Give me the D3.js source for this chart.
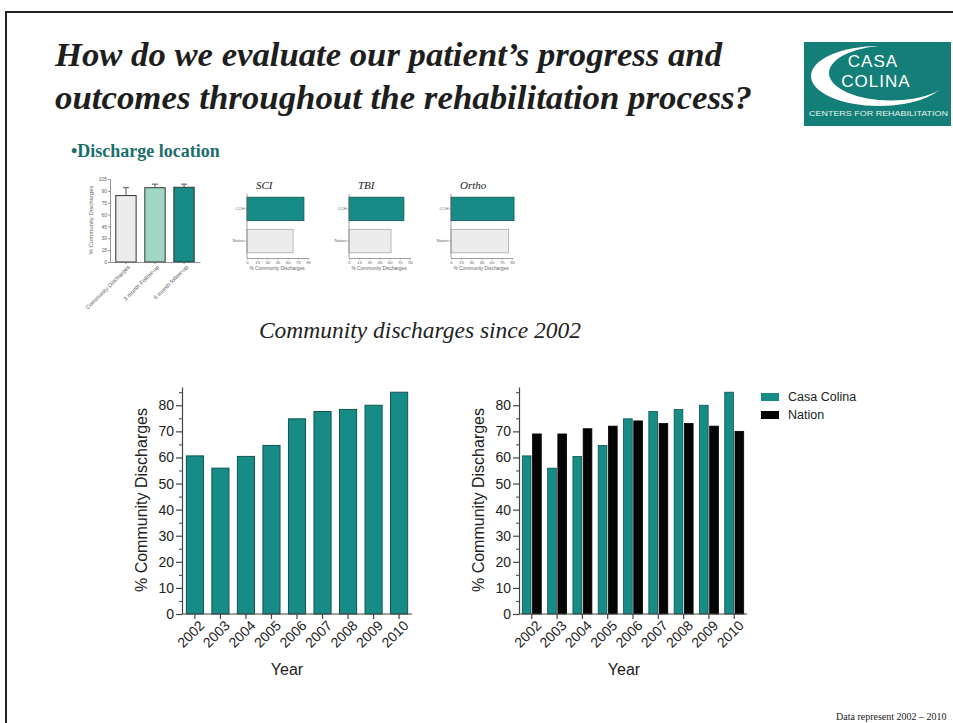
<html lang="en">

<head>
  <meta charset="utf-8">
  <title>Community discharges since 2002</title>
  <script type="text/javascript" src="https://cdn.jsdelivr.net/npm/d3@7"></script>
  <style>
    body { margin: 0; background: #fff; }
  </style>
</head>

<body>
  <svg width="953" height="723"></svg>
  <script>
    // main charts
    const years = ["2002", "2003", "2004", "2005", "2006", "2007", "2008", "2009", "2010"];
    const casaColina = [60.6, 55.9, 60.4, 64.6, 74.8, 77.6, 78.4, 80.0, 85.0];
    const nation = [69.0, 69.0, 71.0, 72.0, 74.0, 73.0, 73.0, 72.0, 70.0];
    const mainTicks = [0, 10, 20, 30, 40, 50, 60, 70, 80];
    const mainMinor = [5, 15, 25, 35, 45, 55, 65, 75, 85];
    const series = ["Casa Colina", "Nation"];

    // small follow-up chart
    const followupLabels = ["Community Discharges", "3 month Follow-up", "6 month follow-up"];
    const followupValues = [84, 94, 94.5];
    const followupErrors = [10, 4.5, 4];
    const followupTicks = [0, 15, 30, 45, 60, 75, 90, 105];

    // small horizontal charts
    const groups = ["SCI", "TBI", "Ortho"];
    const groupCCH = [84, 81, 93];
    const groupNation = [68, 62, 85];
    const groupRows = ["CCH", "Nation"];
    const groupTicks = [0, 15, 30, 45, 60, 75, 90];

    const teal = "#178b85";
    const tealDark = "#0e5552";
    const svg = d3.select("svg");

    svg.append("rect").attr("width", 953).attr("height", 723).attr("fill", "#fff");

    // slide frame
    svg.append("rect")
      .attr("x", 6).attr("y", 12)
      .attr("width", 1000).attr("height", 800)
      .attr("fill", "none").attr("stroke", "#222").attr("stroke-width", 2);

    // title
    const title = svg.append("text")
      .attr("font-family", "'Liberation Serif', 'Times New Roman', serif")
      .attr("font-weight", "bold")
      .attr("font-style", "italic")
      .attr("font-size", 34.5)
      .attr("fill", "#1e1e1e");
    title.append("tspan").attr("x", 55).attr("y", 66)
      .attr("textLength", 667).attr("lengthAdjust", "spacingAndGlyphs")
      .text("How do we evaluate our patient\u2019s progress and");
    title.append("tspan").attr("x", 55).attr("y", 109)
      .attr("textLength", 697).attr("lengthAdjust", "spacingAndGlyphs")
      .text("outcomes throughout the rehabilitation process?");

    // logo
    const logo = svg.append("g");
    logo.append("clipPath").attr("id", "logoClip")
      .append("rect").attr("x", 804).attr("y", 42).attr("width", 147).attr("height", 84);
    logo.append("rect")
      .attr("x", 804).attr("y", 42).attr("width", 147).attr("height", 84)
      .attr("fill", "#137f78");
    const swoosh = logo.append("g").attr("clip-path", "url(#logoClip)");
    swoosh.append("ellipse")
      .attr("cx", 879).attr("cy", 76).attr("rx", 68).attr("ry", 30)
      .attr("fill", "#fff");
    swoosh.append("ellipse")
      .attr("cx", 891).attr("cy", 73).attr("rx", 62).attr("ry", 27.5)
      .attr("fill", "#137f78");
    logo.append("text")
      .attr("x", 873).attr("y", 67)
      .attr("text-anchor", "middle")
      .attr("font-family", "'Liberation Sans', Arial, sans-serif")
      .attr("font-size", 17)
      .attr("letter-spacing", 1)
      .attr("fill", "#fff")
      .text("CASA");
    logo.append("text")
      .attr("x", 876).attr("y", 87)
      .attr("text-anchor", "middle")
      .attr("font-family", "'Liberation Sans', Arial, sans-serif")
      .attr("font-size", 17)
      .attr("letter-spacing", 1)
      .attr("fill", "#fff")
      .text("COLINA");
    logo.append("text")
      .attr("x", 809).attr("y", 116)
      .attr("font-family", "'Liberation Sans', Arial, sans-serif")
      .attr("font-size", 7)
      .attr("fill", "#e6f2f1")
      .attr("textLength", 139)
      .attr("lengthAdjust", "spacingAndGlyphs")
      .text("CENTERS FOR REHABILITATION");

    // section heading
    svg.append("text")
      .attr("x", 71).attr("y", 157)
      .attr("font-family", "'Liberation Serif', 'Times New Roman', serif")
      .attr("font-weight", "bold")
      .attr("font-size", 18)
      .attr("fill", "#1a6f6a")
      .text("\u2022Discharge location");

    // small vertical chart with error bars
    const ySmall = d3.scaleLinear().domain([0, 105]).range([262, 179]);
    const xSmall = d3.scaleBand().domain(followupLabels).range([110, 200])
      .paddingInner(0.3).paddingOuter(0.2);
    const smallFill = ["#ececec", "#9fd6c4", teal];
    const fs = svg.append("g");
    fs.selectAll("rect.bar")
      .data(followupLabels)
      .join("rect")
      .attr("class", "bar")
      .attr("x", d => xSmall(d))
      .attr("width", xSmall.bandwidth())
      .attr("y", (d, i) => ySmall(followupValues[i]))
      .attr("height", (d, i) => ySmall(0) - ySmall(followupValues[i]))
      .attr("fill", (d, i) => smallFill[i])
      .attr("stroke", "#333").attr("stroke-width", 1);
    fs.selectAll("path.err")
      .data(followupLabels)
      .join("path")
      .attr("class", "err")
      .attr("d", (d, i) => {
        const cx = xSmall(d) + xSmall.bandwidth() / 2;
        const y1 = ySmall(followupValues[i]);
        const y2 = ySmall(followupValues[i] + followupErrors[i]);
        return `M${cx},${y1}V${y2}M${cx - 3},${y2}H${cx + 3}`;
      })
      .attr("stroke", "#555").attr("fill", "none");
    const smallYAxis = fs.append("g")
      .attr("transform", "translate(110,0)")
      .call(d3.axisLeft(ySmall).tickValues(followupTicks).tickSize(2).tickSizeOuter(0).tickPadding(1));
    const smallXAxis = fs.append("g")
      .attr("transform", "translate(0,262)")
      .call(d3.axisBottom(xSmall).tickSize(2).tickSizeOuter(0));
    [smallYAxis, smallXAxis].forEach(a => {
      a.selectAll("text").attr("font-size", 5).attr("fill", "#666")
        .attr("font-family", "'Liberation Sans', Arial, sans-serif");
      a.selectAll("line,path").attr("stroke", "#666").attr("stroke-width", 0.7);
    });
    smallXAxis.selectAll("text")
      .attr("transform", "translate(3,4) rotate(-45)")
      .attr("text-anchor", "end")
      .attr("font-size", 5.8)
      .attr("y", 0).attr("dy", "0.35em");
    fs.append("text")
      .attr("transform", "translate(93,220) rotate(-90)")
      .attr("text-anchor", "middle")
      .attr("font-family", "'Liberation Sans', Arial, sans-serif")
      .attr("font-size", 6).attr("fill", "#666")
      .text("% Community Discharges");

    // small horizontal charts
    groups.forEach((name, i) => {
      const x0 = 247 + i * 102;
      const xs = d3.scaleLinear().domain([0, 90]).range([x0, x0 + 61]);
      const ys = d3.scaleBand().domain(groupRows).range([194, 256])
        .paddingInner(0.27).paddingOuter(0.1);
      const vals = [groupCCH[i], groupNation[i]];
      const g = svg.append("g");
      g.selectAll("rect")
        .data(groupRows)
        .join("rect")
        .attr("x", xs(0))
        .attr("y", d => ys(d))
        .attr("height", ys.bandwidth())
        .attr("width", (d, j) => xs(vals[j]) - xs(0))
        .attr("fill", (d, j) => j === 0 ? teal : "#ececec")
        .attr("stroke", (d, j) => j === 0 ? tealDark : "#aaa")
        .attr("stroke-width", 0.8);
      const ax = g.append("g")
        .attr("transform", "translate(0,258)")
        .call(d3.axisBottom(xs).tickValues(groupTicks).tickSize(1.5).tickSizeOuter(0).tickPadding(1.5));
      const ay = g.append("g")
        .attr("transform", `translate(${x0},0)`)
        .call(d3.axisLeft(ys).tickSize(1.5).tickSizeOuter(0).tickPadding(1));
      [ax, ay].forEach(a => {
        a.selectAll("text").attr("font-size", 4.2).attr("fill", "#666")
          .attr("font-family", "'Liberation Sans', Arial, sans-serif");
        a.selectAll("line,path").attr("stroke", "#777").attr("stroke-width", 0.7);
      });
      ay.select(".domain").attr("d", `M0,194V258`);
      g.append("text")
        .attr("x", x0 + 30).attr("y", 270)
        .attr("text-anchor", "middle")
        .attr("font-family", "'Liberation Sans', Arial, sans-serif")
        .attr("font-size", 4.8).attr("fill", "#666")
        .text("% Community Discharges");
      g.append("text")
        .attr("x", x0 + 9).attr("y", 189)
        .attr("font-family", "'Liberation Serif', 'Times New Roman', serif")
        .attr("font-style", "italic")
        .attr("font-size", 11).attr("fill", "#222")
        .text(name);
    });

    // subtitle
    svg.append("text")
      .attr("x", 420).attr("y", 338)
      .attr("text-anchor", "middle")
      .attr("font-family", "'Liberation Serif', 'Times New Roman', serif")
      .attr("font-style", "italic")
      .attr("font-size", 23.5).attr("fill", "#222")
      .text("Community discharges since 2002");

    // main charts
    const y = d3.scaleLinear().domain([0, 87]).range([614, 387]);

    function drawMain(x0, width, grouped) {
      const g = svg.append("g");
      const x = d3.scaleBand().domain(years).range([x0, x0 + width])
        .paddingInner(0.33).paddingOuter(0.17);

      if (!grouped) {
        g.selectAll("rect")
          .data(years)
          .join("rect")
          .attr("x", d => x(d))
          .attr("width", x.bandwidth())
          .attr("y", (d, i) => y(casaColina[i]))
          .attr("height", (d, i) => y(0) - y(casaColina[i]))
          .attr("fill", teal)
          .attr("stroke", tealDark).attr("stroke-width", 1);
      } else {
        const xi = d3.scaleBand().domain(series).range([0, x.bandwidth() + 2]).paddingInner(0.15);
        const cols = [casaColina, nation];
        const fills = [teal, "#050505"];
        series.forEach((s, k) => {
          g.selectAll("rect.s" + k)
            .data(years)
            .join("rect")
            .attr("class", "s" + k)
            .attr("x", d => x(d) - 1 + xi(s))
            .attr("width", xi.bandwidth())
            .attr("y", (d, i) => y(cols[k][i]))
            .attr("height", (d, i) => y(0) - y(cols[k][i]))
            .attr("fill", fills[k])
            .attr("stroke", k === 0 ? tealDark : "#000").attr("stroke-width", 0.8);
        });
      }

      const yAxis = g.append("g")
        .attr("transform", `translate(${x0},0)`)
        .call(d3.axisLeft(y).tickValues(mainTicks).tickSize(6).tickSizeOuter(0).tickPadding(2));
      g.append("g")
        .attr("transform", `translate(${x0},0)`)
        .call(d3.axisLeft(y).tickValues(mainMinor).tickSize(3).tickFormat(""))
        .call(a => a.select(".domain").remove())
        .selectAll("line").attr("stroke", "#444");
      const xAxis = g.append("g")
        .attr("transform", "translate(0,614)")
        .call(d3.axisBottom(x).tickSize(5).tickSizeOuter(0));
      xAxis.select(".domain").attr("d", `M${x0},0H${x0 + width}`);
      xAxis.selectAll("text")
        .attr("transform", "translate(7,9) rotate(-45)")
        .attr("text-anchor", "end")
        .attr("y", 0).attr("dy", "0.35em");
      [yAxis, xAxis].forEach(a => {
        a.selectAll("text").attr("font-size", 14).attr("fill", "#222")
          .attr("font-family", "'Liberation Sans', Arial, sans-serif");
        a.selectAll("line,path").attr("stroke", "#444").attr("stroke-width", 1.2);
      });

      g.append("text")
        .attr("transform", `translate(${x0 - 35},500) rotate(-90)`)
        .attr("text-anchor", "middle")
        .attr("font-family", "'Liberation Sans', Arial, sans-serif")
        .attr("font-size", 16).attr("fill", "#222")
        .text("% Community Discharges");
      g.append("text")
        .attr("x", x0 + 105).attr("y", 675)
        .attr("text-anchor", "middle")
        .attr("font-family", "'Liberation Sans', Arial, sans-serif")
        .attr("font-size", 16).attr("fill", "#222")
        .text("Year");
    }

    drawMain(182, 230, false);
    drawMain(519, 228, true);

    // legend
    const legend = svg.append("g");
    const legendFill = [teal, "#050505"];
    series.forEach((s, k) => {
      legend.append("rect")
        .attr("x", 761).attr("y", 393 + k * 18)
        .attr("width", 18).attr("height", 8)
        .attr("fill", legendFill[k]);
      legend.append("text")
        .attr("x", 788).attr("y", 401 + k * 18)
        .attr("font-family", "'Liberation Sans', Arial, sans-serif")
        .attr("font-size", 12.5).attr("fill", "#222")
        .text(s);
    });

    // footnote
    svg.append("text")
      .attr("x", 836).attr("y", 720)
      .attr("font-family", "'Liberation Serif', 'Times New Roman', serif")
      .attr("font-size", 10).attr("fill", "#222")
      .text("Data represent 2002 \u2013 2010");
  </script>
</body>

</html>
